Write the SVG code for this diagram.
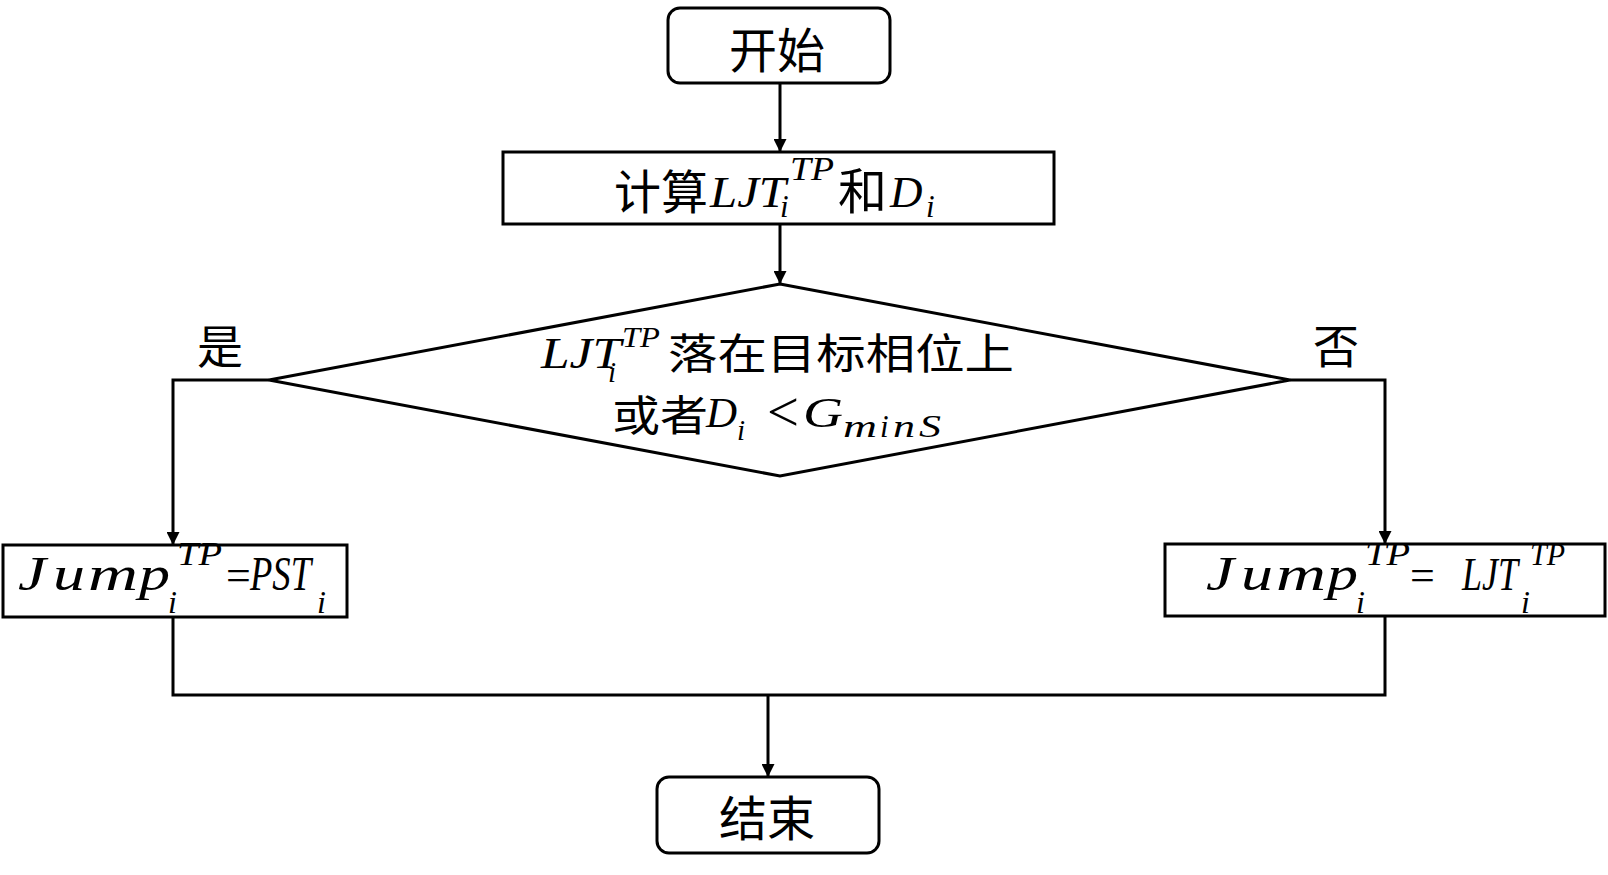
<svg xmlns="http://www.w3.org/2000/svg" width="1608" height="875" viewBox="0 0 1608 875">
<style>
.box{fill:#fff;stroke:#000;stroke-width:3}
.ln{fill:none;stroke:#000;stroke-width:3}
.cjk{font-family:"Noto Sans CJK SC","Noto Sans CJK JP",sans-serif;fill:#000}
.m{font-family:"Liberation Serif",serif;font-style:italic;fill:#000}
.up{font-family:"Liberation Serif",serif;fill:#000}
</style>
<defs>
<marker id="arr" markerUnits="userSpaceOnUse" markerWidth="14" markerHeight="13" refX="13" refY="6.5" orient="auto">
<path d="M0,0 L13,6.5 L0,13 z" fill="#000"/>
</marker>
</defs>
<rect width="1608" height="875" fill="#fff"/>
<g id="connectors">
<line class="ln" x1="780" y1="83" x2="780" y2="152" marker-end="url(#arr)"/>
<line class="ln" x1="780" y1="224" x2="780" y2="284" marker-end="url(#arr)"/>
<polyline class="ln" points="269,380 173,380 173,545" marker-end="url(#arr)"/>
<polyline class="ln" points="1290,380 1385,380 1385,544" marker-end="url(#arr)"/>
<polyline class="ln" points="173,617 173,695 1385,695 1385,616"/>
<line class="ln" x1="768" y1="695" x2="768" y2="777" marker-end="url(#arr)"/>
</g>
<g id="start">
<rect class="box" x="668" y="8" width="222" height="75" rx="12"/>
<text class="cjk" x="777" y="68" font-size="48" text-anchor="middle">开始</text>
</g>
<g id="compute">
<rect class="box" x="503" y="152" width="551" height="72"/>
<text class="cjk" x="614" y="209" font-size="47">计算</text>
<text class="m" x="710" y="207" font-size="45" textLength="76" lengthAdjust="spacingAndGlyphs">LJT</text>
<text class="m" x="780" y="217" font-size="31">i</text>
<text class="m" x="790" y="180" font-size="34" textLength="44" lengthAdjust="spacingAndGlyphs">TP</text>
<text class="cjk" x="838" y="209" font-size="49">和</text>
<text class="m" x="890" y="207" font-size="45">D</text>
<text class="m" x="926" y="217" font-size="31">i</text>
</g>
<g id="decision">
<polygon class="box" points="780,284 1290,380 780,476 269,380"/>
<text class="m" x="541" y="368" font-size="44" textLength="80" lengthAdjust="spacingAndGlyphs">LJT</text>
<text class="m" x="608" y="382" font-size="29">i</text>
<text class="m" x="622" y="347" font-size="29" textLength="38" lengthAdjust="spacingAndGlyphs">TP</text>
<text class="cjk" x="668" y="369" font-size="42" textLength="346" lengthAdjust="spacingAndGlyphs">落在目标相位上</text>
<text class="cjk" x="612" y="431" font-size="42" textLength="96" lengthAdjust="spacingAndGlyphs">或者</text>
<text class="m" x="706" y="427" font-size="43">D</text>
<text class="m" x="737" y="440" font-size="29">i</text>
<text class="up" x="767" y="431" font-size="58" textLength="32" lengthAdjust="spacingAndGlyphs">&lt;</text>
<text class="m" x="803" y="427" font-size="43" textLength="40" lengthAdjust="spacingAndGlyphs">G</text>
<text class="m" x="843" y="437" font-size="31" textLength="34" lengthAdjust="spacingAndGlyphs">m</text>
<text class="m" x="880" y="437" font-size="31">i</text>
<text class="m" x="893" y="437" font-size="31" textLength="22" lengthAdjust="spacingAndGlyphs">n</text>
<text class="m" x="919" y="437" font-size="31" textLength="22" lengthAdjust="spacingAndGlyphs">S</text>
</g>
<g id="label-yes">
<text class="cjk" x="220" y="363" font-size="46" text-anchor="middle">是</text>
</g>
<g id="label-no">
<text class="cjk" x="1336" y="363" font-size="46" text-anchor="middle">否</text>
</g>
<g id="jump-pst">
<rect class="box" x="3" y="545" width="344" height="72"/>
<text class="m" x="18" y="590" font-size="49" textLength="28" lengthAdjust="spacingAndGlyphs">J</text>
<text class="m" x="53" y="590" font-size="49" textLength="32" lengthAdjust="spacingAndGlyphs">u</text>
<text class="m" x="88" y="590" font-size="49" textLength="50" lengthAdjust="spacingAndGlyphs">m</text>
<text class="m" x="139" y="590" font-size="49" textLength="31" lengthAdjust="spacingAndGlyphs">p</text>
<text class="m" x="168" y="613" font-size="32">i</text>
<text class="m" x="177" y="565" font-size="34" textLength="45" lengthAdjust="spacingAndGlyphs">TP</text>
<text class="up" x="226" y="590" font-size="44">=</text>
<text class="m" x="250" y="590" font-size="48" textLength="61" lengthAdjust="spacingAndGlyphs">PST</text>
<text class="m" x="317" y="613" font-size="32">i</text>
</g>
<g id="jump-ljt">
<rect class="box" x="1165" y="544" width="440" height="72"/>
<text class="m" x="1206" y="590" font-size="49" textLength="28" lengthAdjust="spacingAndGlyphs">J</text>
<text class="m" x="1241" y="590" font-size="49" textLength="32" lengthAdjust="spacingAndGlyphs">u</text>
<text class="m" x="1276" y="590" font-size="49" textLength="50" lengthAdjust="spacingAndGlyphs">m</text>
<text class="m" x="1327" y="590" font-size="49" textLength="31" lengthAdjust="spacingAndGlyphs">p</text>
<text class="m" x="1356" y="613" font-size="32">i</text>
<text class="m" x="1365" y="565" font-size="34" textLength="45" lengthAdjust="spacingAndGlyphs">TP</text>
<text class="up" x="1410" y="590" font-size="44">=</text>
<text class="m" x="1462" y="590" font-size="46" textLength="56" lengthAdjust="spacingAndGlyphs">LJT</text>
<text class="m" x="1521" y="613" font-size="32">i</text>
<text class="m" x="1530" y="565" font-size="32" textLength="35" lengthAdjust="spacingAndGlyphs">TP</text>
</g>
<g id="end">
<rect class="box" x="657" y="777" width="222" height="76" rx="12"/>
<text class="cjk" x="767" y="836" font-size="48" text-anchor="middle">结束</text>
</g>
</svg>
